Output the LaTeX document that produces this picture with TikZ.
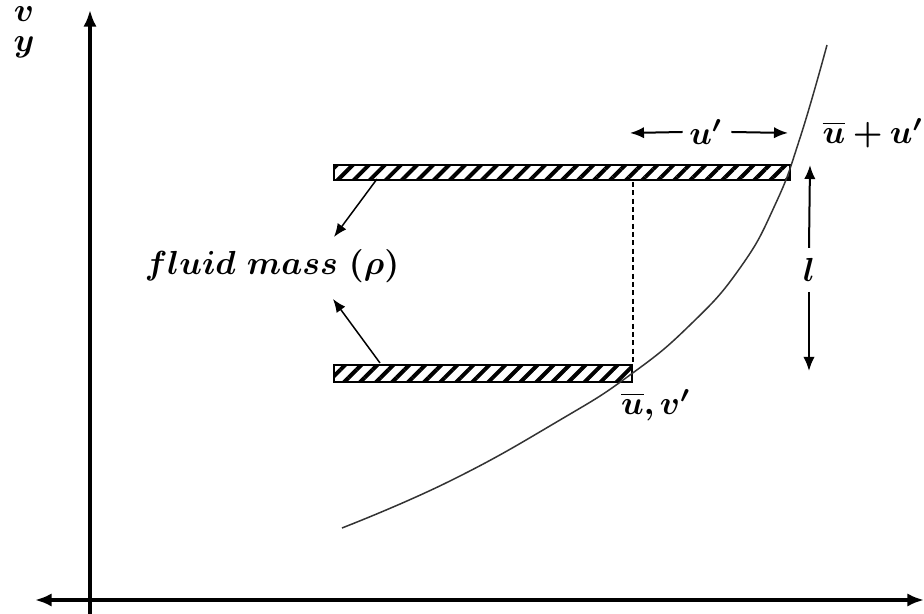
\documentclass[tikz,border=0pt]{standalone}
\usepackage{amsmath,bm}
\usetikzlibrary{arrows.meta,patterns.meta}
\begin{document}
\begin{tikzpicture}[x=0.3pt,y=-0.3pt,
  axis/.style={line width=1.1pt,-{Latex[length=5pt,width=4pt]}},
  thin arrow/.style={line width=0.45pt,-{Latex[length=4pt,width=3.2pt]}},
  mid arrow/.style={line width=0.6pt,-{Latex[length=4.2pt,width=3.4pt]}},
  hatchbar/.style={draw,line width=0.5pt,pattern={Lines[angle=45,distance=3.4pt,line width=1.2pt]}},
  lab/.style={inner sep=0pt,font=\normalsize}]
\useasboundingbox (0,0) rectangle (924,614);
% axes
\coordinate (ytip) at (90,10);
\coordinate (ybot) at (90,614);
\coordinate (xl) at (35,600);
\coordinate (xr) at (924,600);
\draw[axis] (ybot) -- (ytip);
\draw[line width=1.1pt,{Latex[length=5pt,width=4pt]}-{Latex[length=5pt,width=4pt]}] (xl) -- (xr);
\node[lab,anchor=base] (v) at (24,22) {$\bm{v}$};
\node[lab,anchor=base] (y) at (24,52) {$\bm{y}$};
% bars
\node[hatchbar,minimum width=456*0.3pt,minimum height=15*0.3pt,inner sep=0pt,anchor=north west] (top) at (332,163) {};
\node[hatchbar,minimum width=298*0.3pt,minimum height=17*0.3pt,inner sep=0pt,anchor=north west] (bot) at (333,364) {};
\draw[line width=0.5pt,dash pattern=on 1.5pt off 1pt] (top.south east -| bot.north east) -- (bot.north east);
% curve
\draw[line width=0.45pt,black!80] plot[smooth,tension=0.8] coordinates {(342,528) (450,481) (560,420) (630,375) (690,325) (740,268) (775,205) (800,138) (827,45)};
% fluid mass
\node[lab] (fm) at (272,266) {$\bm{fluid\ mass\ (\rho)}$};
\coordinate (ta) at (377,179);
\coordinate (tb) at (334,237);
\coordinate (ba) at (380,363);
\coordinate (bb) at (333,299);
\draw[thin arrow] (ta) -- (tb);
\draw[thin arrow] (ba) -- (bb);
% u'
\node[lab] (up) at (706,132) {$\bm{u'}$};
\coordinate (ul) at (630,133);
\coordinate (ur) at (788,133);
\draw[mid arrow] (up.west) ++(-6,0) -- (ul);
\draw[mid arrow] (up.east) ++(8,0) -- (ur);
\node[lab,anchor=west] (ubu) at (822,133) {$\bm{\overline{u}+u'}$};
% l
\node[lab] (l) at (809,270) {$\bm{l}$};
\coordinate (lt) at (810,165);
\coordinate (lb) at (809,371);
\draw[mid arrow] (809,248) -- (lt);
\draw[mid arrow] (809,292) -- (lb);
% u bar, v'
\node[lab] (uv) at (656,405) {$\bm{\overline{u},v'}$};
\end{tikzpicture}
\end{document}
